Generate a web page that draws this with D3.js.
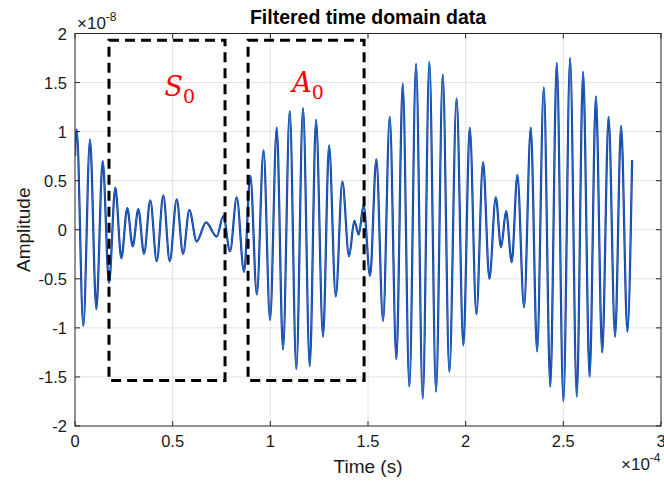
<!DOCTYPE html>
<html>
<head>
<meta charset="utf-8">
<script src="https://cdn.jsdelivr.net/npm/d3@7"></script>
<style>
  html, body { margin: 0; padding: 0; background: #fff; }
  svg { display: block; font-family: "Liberation Sans", Arial, sans-serif; }
</style>
</head>
<body>
<svg id="chart" width="664" height="486"></svg>
<script>
// Filtered waveform: successive peaks/troughs (time in 1e-4 s, amplitude in 1e-8)
const timeE4 = [
  0.0000, 0.0087, 0.0425, 0.0768, 0.1091, 0.1418, 0.1741, 0.2064, 0.2371, 0.2678,
  0.2954, 0.3241, 0.3533, 0.3856, 0.4183, 0.4521, 0.4849, 0.5207, 0.5530, 0.5853,
  0.6231, 0.6708, 0.7255, 0.7593, 0.7936, 0.8280, 0.8653, 0.8976, 0.9309, 0.9652,
  0.9985, 1.0328, 1.0650, 1.0993, 1.1331, 1.1674, 1.2017, 1.2340, 1.2698, 1.3006,
  1.3349, 1.3687, 1.4030, 1.4301, 1.4526, 1.4772, 1.5105, 1.5427, 1.5771, 1.6114,
  1.6452, 1.6779, 1.7117, 1.7460, 1.7803, 1.8141, 1.8484, 1.8827, 1.9165, 1.9534,
  1.9882, 2.0210, 2.0548, 2.0891, 2.1213, 2.1541, 2.1813, 2.2069, 2.2360, 2.2647,
  2.2990, 2.3333, 2.3656, 2.3999, 2.4332, 2.4665, 2.5003, 2.5346, 2.5689, 2.6011,
  2.6344, 2.6667, 2.6989, 2.7317, 2.7650, 2.7957, 2.8280, 2.8520
];
const ampE8 = [
   0.75,  1.02, -0.98,  0.92, -0.81,  0.70, -0.54,  0.43, -0.29,  0.22,
  -0.17,  0.21, -0.245, 0.30, -0.32,  0.35, -0.32,  0.31, -0.245, 0.20,
  -0.12,  0.075,-0.07,  0.14, -0.22,  0.33, -0.43,  0.55, -0.66,  0.81,
  -0.92,  1.04, -1.22,  1.21, -1.42,  1.24, -1.39,  1.12, -1.09,  0.86,
  -0.68,  0.49, -0.27,  0.09, -0.05,  0.25, -0.47,  0.72, -0.93,  1.15,
  -1.32,  1.49, -1.60,  1.69, -1.72,  1.71, -1.65,  1.58, -1.45,  1.34,
  -1.18,  1.04, -0.86,  0.69, -0.50,  0.33, -0.18,  0.19, -0.33,  0.56,
  -0.79,  1.04, -1.24,  1.45, -1.60,  1.70, -1.75,  1.75, -1.70,  1.61,
  -1.50,  1.36, -1.25,  1.15, -1.09,  1.06, -1.04,  0.71
];

// Axis ticks
const xTicks = [0, 0.5, 1, 1.5, 2, 2.5, 3];
const yTicks = [-2, -1.5, -1, -0.5, 0, 0.5, 1, 1.5, 2];

// Wave-mode windows (time in 1e-4 s, amplitude in 1e-8)
const windowLabels = ["S", "A"];
const windowStart = [0.174, 0.886];
const windowEnd = [0.768, 1.480];
const windowTop = [1.93, 1.93];
const windowBottom = [-1.536, -1.536];

const svg = d3.select("#chart");
const L = 75, R = 661, T = 33.5, B = 426;

const x = d3.scaleLinear().domain([0, 3]).range([L, R]);
const y = d3.scaleLinear().domain([-2, 2]).range([B, T]);

const axisColor = "#262626";
const gridColor = "#e2e2e2";
const textColor = "#1a1a1a";

// Grid
const grid = svg.append("g");
grid.selectAll(".gx").data(xTicks.slice(1, -1)).enter().append("line")
  .attr("x1", d => x(d)).attr("x2", d => x(d))
  .attr("y1", T).attr("y2", B)
  .attr("stroke", gridColor).attr("stroke-width", 1);
grid.selectAll(".gy").data(yTicks.slice(1, -1)).enter().append("line")
  .attr("y1", d => y(d)).attr("y2", d => y(d))
  .attr("x1", L).attr("x2", R)
  .attr("stroke", gridColor).attr("stroke-width", 1);

// Waveform
svg.append("clipPath").attr("id", "plotClip")
  .append("rect").attr("x", L).attr("y", T).attr("width", R - L).attr("height", B - T);

const pts = timeE4.map((t, i) => [t, ampE8[i]]);
const line = d3.line()
  .x(d => x(d[0])).y(d => y(d[1]))
  .curve(d3.curveMonotoneX);

const wave = svg.append("g").attr("clip-path", "url(#plotClip)");
wave.append("path").datum(pts)
  .attr("d", line).attr("fill", "none")
  .attr("stroke", "#0d369a").attr("stroke-width", 2.2)
  .attr("stroke-linejoin", "round");
wave.append("path").datum(pts)
  .attr("d", line).attr("fill", "none")
  .attr("stroke", "#2b72cb").attr("stroke-width", 0.9)
  .attr("stroke-linejoin", "round");

// Dashed windows
const win = svg.append("g");
windowLabels.forEach((lab, i) => {
  win.append("rect")
    .attr("x", x(windowStart[i])).attr("y", y(windowTop[i]))
    .attr("width", x(windowEnd[i]) - x(windowStart[i]))
    .attr("height", y(windowBottom[i]) - y(windowTop[i]))
    .attr("fill", "none").attr("stroke", "#000")
    .attr("stroke-width", 3).attr("stroke-dasharray", "10,6");
});

// Mode labels
const modeText = [
  { lab: "S", t: 0.458, a: 1.367 },
  { lab: "A", t: 1.112, a: 1.408 }
];
modeText.forEach(m => {
  const tx = svg.append("text")
    .attr("x", x(m.t)).attr("y", y(m.a))
    .attr("fill", "#ff0000")
    .style("font-family", "'DejaVu Serif', 'Liberation Serif', serif");
  tx.append("tspan").text(m.lab)
    .style("font-style", "italic").style("font-size", "27px");
  tx.append("tspan").text("0")
    .attr("dy", 7).style("font-size", "19px");
});

// Axes box
svg.append("rect")
  .attr("x", L).attr("y", T).attr("width", R - L).attr("height", B - T)
  .attr("fill", "none").attr("stroke", axisColor).attr("stroke-width", 1);

// Ticks (inward, all four sides)
const tk = 5;
const ticks = svg.append("g").attr("stroke", axisColor).attr("stroke-width", 1);
xTicks.forEach(v => {
  ticks.append("line").attr("x1", x(v)).attr("x2", x(v)).attr("y1", B).attr("y2", B - tk);
  ticks.append("line").attr("x1", x(v)).attr("x2", x(v)).attr("y1", T).attr("y2", T + tk);
});
yTicks.forEach(v => {
  ticks.append("line").attr("y1", y(v)).attr("y2", y(v)).attr("x1", L).attr("x2", L + tk);
  ticks.append("line").attr("y1", y(v)).attr("y2", y(v)).attr("x1", R).attr("x2", R - tk);
});

// Tick labels
const fmt = v => String(v);
svg.append("g").selectAll("text").data(xTicks).enter().append("text")
  .attr("x", d => x(d)).attr("y", 447)
  .attr("text-anchor", "middle").attr("font-size", 16.5).attr("fill", textColor)
  .text(fmt);
svg.append("g").selectAll("text").data(yTicks).enter().append("text")
  .attr("x", 67).attr("y", d => y(d) + 6)
  .attr("text-anchor", "end").attr("font-size", 16.5).attr("fill", textColor)
  .text(fmt);

// Exponent labels
const e8 = svg.append("text").attr("x", 77).attr("y", 29)
  .attr("font-size", 17).attr("fill", textColor);
e8.append("tspan").text("\u00d710");
e8.append("tspan").text("-8").attr("dy", -8).attr("font-size", 12);

const e4 = svg.append("text").attr("x", 621).attr("y", 470)
  .attr("font-size", 17).attr("fill", textColor);
e4.append("tspan").text("\u00d710");
e4.append("tspan").text("-4").attr("dy", -8).attr("font-size", 12);

// Title and axis labels
svg.append("text").attr("x", (L + R) / 2).attr("y", 24)
  .attr("text-anchor", "middle").attr("font-size", 19.5).attr("font-weight", "bold")
  .attr("fill", "#000").text("Filtered time domain data");
svg.append("text").attr("x", (L + R) / 2).attr("y", 473)
  .attr("text-anchor", "middle").attr("font-size", 19).attr("fill", textColor)
  .text("Time (s)");
svg.append("text")
  .attr("transform", `translate(30, ${(T + B) / 2}) rotate(-90)`)
  .attr("text-anchor", "middle").attr("font-size", 19).attr("fill", textColor)
  .text("Amplitude");
</script>
</body>
</html>
